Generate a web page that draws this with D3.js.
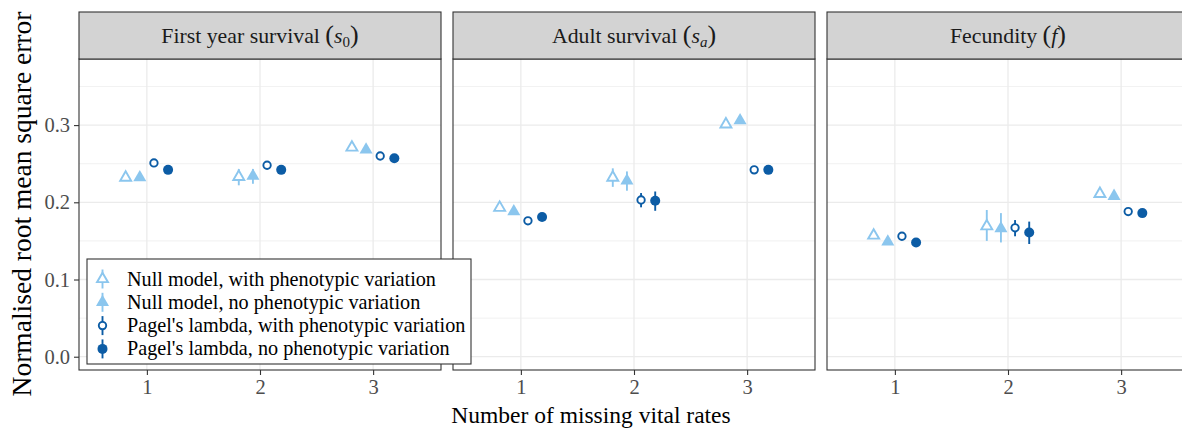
<!DOCTYPE html>
<html>
<head>
<meta charset="utf-8">
<script src="https://cdn.jsdelivr.net/npm/d3@7"></script>
<style>
  body { margin: 0; background: #fff; }
  svg { display: block; }
  text { font-family: "Liberation Serif", "DejaVu Serif", serif; }
</style>
</head>
<body>
<svg id="chart" width="1182" height="430"></svg>
<script>
// Number of missing vital rates (x positions within each facet)
const missingRates = [1, 2, 3];
// Facets: vital rate being imputed
const facetKeys = ["s0", "sa", "f"];
const facetNames = ["First year survival", "Adult survival", "Fecundity"];
const facetSymbols = ["s", "s", "f"];
const facetSubscripts = ["0", "a", ""];
const yTicks = [0, 0.1, 0.2, 0.3];
const yMinor = [0.05, 0.15, 0.25, 0.35];
const yTickLabels = ["0.0", "0.1", "0.2", "0.3"];

const modelNames = [
  "Null model, with phenotypic variation",
  "Null model, no phenotypic variation",
  "Pagel's lambda, with phenotypic variation",
  "Pagel's lambda, no phenotypic variation"
];

// Normalised RMSE, ordered facet by facet (s0: 1,2,3 | sa: 1,2,3 | f: 1,2,3)
const nullWithMean  = [0.232, 0.233, 0.271, 0.193, 0.232, 0.301, 0.157, 0.169, 0.211];
const nullWithLow   = [0.229, 0.222, 0.268, 0.190, 0.220, 0.298, 0.154, 0.150, 0.208];
const nullWithHigh  = [0.235, 0.243, 0.274, 0.196, 0.244, 0.304, 0.160, 0.190, 0.214];

const nullNoMean    = [0.232, 0.234, 0.268, 0.188, 0.228, 0.306, 0.149, 0.166, 0.208];
const nullNoLow     = [0.229, 0.224, 0.265, 0.185, 0.215, 0.303, 0.146, 0.148, 0.205];
const nullNoHigh    = [0.235, 0.243, 0.271, 0.191, 0.240, 0.309, 0.152, 0.186, 0.211];

const pagelWithMean = [0.251, 0.248, 0.260, 0.176, 0.203, 0.242, 0.156, 0.167, 0.188];
const pagelWithLow  = [0.249, 0.245, 0.258, 0.174, 0.1935, 0.240, 0.154, 0.156, 0.186];
const pagelWithHigh = [0.253, 0.251, 0.262, 0.178, 0.212, 0.244, 0.158, 0.177, 0.190];

const pagelNoMean   = [0.242, 0.242, 0.257, 0.181, 0.202, 0.242, 0.148, 0.161, 0.186];
const pagelNoLow    = [0.240, 0.239, 0.255, 0.179, 0.189, 0.240, 0.146, 0.146, 0.184];
const pagelNoHigh   = [0.244, 0.245, 0.259, 0.183, 0.214, 0.244, 0.150, 0.175, 0.188];

const seriesMeans = [nullWithMean, nullNoMean, pagelWithMean, pagelNoMean];
const seriesLows  = [nullWithLow, nullNoLow, pagelWithLow, pagelNoLow];
const seriesHighs = [nullWithHigh, nullNoHigh, pagelWithHigh, pagelNoHigh];

const lightBlue = "#8BC6EE";
const darkBlue = "#0C5CA5";
const modelColors = [lightBlue, lightBlue, darkBlue, darkBlue];
const modelShapes = ["triangle", "triangle", "circle", "circle"];
const modelFilled = [false, true, false, true];

// Build long-format rows
const rows = [];
seriesMeans.forEach((means, m) => {
  facetKeys.forEach((fk, f) => {
    missingRates.forEach((r, j) => {
      const k = f * missingRates.length + j;
      rows.push({ model: m, facet: fk, rate: r, mean: means[k], lo: seriesLows[m][k], hi: seriesHighs[m][k] });
    });
  });
});

const svg = d3.select("#chart");

const stripTop = 12, stripBottom = 59, plotBottom = 370;
const facetBand = d3.scaleBand()
  .domain(facetKeys)
  .range([79, 79 + 3 * 362 + 2 * 12])
  .paddingInner(12 / 374);
const pw = facetBand.bandwidth();
const ph = plotBottom - stripBottom;

const x = d3.scaleLinear().domain([0.4, 3.6]).range([0, pw]);
const y = d3.scaleLinear().domain([-0.0172, 0.3856]).range([ph, 0]);
const dodge = d3.scalePoint().domain(d3.range(4)).range([-0.1875, 0.1875]);

function drawSymbol(g, shape, filled, color, cx, cy) {
  if (shape === "triangle") {
    const size = filled ? 74 : 52;
    g.append("path")
      .attr("d", d3.symbol().type(d3.symbolTriangle).size(size)())
      .attr("transform", `translate(${cx},${cy})`)
      .attr("fill", filled ? color : "#fff")
      .attr("stroke", filled ? "none" : color)
      .attr("stroke-width", filled ? 0 : 1.9)
      .attr("stroke-linejoin", "miter");
  } else {
    g.append("circle")
      .attr("cx", cx).attr("cy", cy)
      .attr("r", filled ? 5 : 3.7)
      .attr("fill", filled ? color : "#fff")
      .attr("stroke", filled ? "none" : color)
      .attr("stroke-width", filled ? 0 : 1.9);
  }
}

facetKeys.forEach((fk, fi) => {
  const g = svg.append("g").attr("transform", `translate(${facetBand(fk)},${stripBottom})`);

  g.append("rect").attr("width", pw).attr("height", ph).attr("fill", "#fff");

  // minor then major gridlines
  g.selectAll(".ymin").data(yMinor).enter().append("line")
    .attr("x1", 0).attr("x2", pw)
    .attr("y1", d => y(d)).attr("y2", d => y(d))
    .attr("stroke", "#EBEBEB").attr("stroke-width", 0.7);
  g.selectAll(".ymaj").data(yTicks).enter().append("line")
    .attr("x1", 0).attr("x2", pw)
    .attr("y1", d => y(d)).attr("y2", d => y(d))
    .attr("stroke", "#EBEBEB").attr("stroke-width", 1.3);
  g.selectAll(".xmaj").data(missingRates).enter().append("line")
    .attr("y1", 0).attr("y2", ph)
    .attr("x1", d => x(d)).attr("x2", d => x(d))
    .attr("stroke", "#EBEBEB").attr("stroke-width", 1.3);

  // point ranges
  rows.filter(r => r.facet === fk).forEach(r => {
    const cx = x(r.rate + dodge(r.model));
    const col = modelColors[r.model];
    g.append("line")
      .attr("x1", cx).attr("x2", cx)
      .attr("y1", y(r.lo)).attr("y2", y(r.hi))
      .attr("stroke", col).attr("stroke-width", 1.9);
    drawSymbol(g, modelShapes[r.model], modelFilled[r.model], col, cx, y(r.mean));
  });

  g.append("rect").attr("width", pw).attr("height", ph)
    .attr("fill", "none").attr("stroke", "#333333").attr("stroke-width", 1.1);

  // x axis
  const xa = g.append("g").attr("transform", `translate(0,${ph})`)
    .call(d3.axisBottom(x).tickValues(missingRates).tickFormat(d3.format("d")).tickSize(5).tickPadding(4));
  xa.select(".domain").remove();
  xa.selectAll("line").attr("stroke", "#333333").attr("stroke-width", 1.1);
  xa.selectAll("text").attr("font-size", 20.5).attr("fill", "#4D4D4D")
    .attr("font-family", "Liberation Serif");

  if (fi === 0) {
    const ya = g.append("g")
      .call(d3.axisLeft(y).tickValues(yTicks).tickFormat((d, i) => yTickLabels[i]).tickSize(5).tickPadding(4));
    ya.select(".domain").remove();
    ya.selectAll("line").attr("stroke", "#333333").attr("stroke-width", 1.1);
    ya.selectAll("text").attr("font-size", 20.5).attr("fill", "#4D4D4D")
      .attr("font-family", "Liberation Serif");
  }

  // strip
  const s = svg.append("g").attr("transform", `translate(${facetBand(fk)},${stripTop})`);
  s.append("rect").attr("width", pw).attr("height", stripBottom - stripTop)
    .attr("fill", "#D3D3D3").attr("stroke", "#333333").attr("stroke-width", 1.1);
  const t = s.append("text").attr("x", pw / 2).attr("y", 31)
    .attr("text-anchor", "middle").attr("font-size", 21.8).attr("fill", "#1A1A1A");
  t.append("tspan").text(facetNames[fi] + " ");
  t.append("tspan").attr("font-size", 26).text("(");
  t.append("tspan").attr("font-style", "italic").text(facetSymbols[fi]);
  if (facetSubscripts[fi]) {
    t.append("tspan").attr("font-size", 15)
      .attr("font-style", facetSubscripts[fi] === "a" ? "italic" : "normal")
      .attr("dy", 4).text(facetSubscripts[fi]);
    t.append("tspan").attr("dy", -4).attr("font-size", 26).text(")");
  } else {
    t.append("tspan").attr("font-size", 26).text(")");
  }
});

// axis titles
svg.append("text").attr("x", 591).attr("y", 423)
  .attr("text-anchor", "middle").attr("font-size", 23.5).attr("fill", "#000")
  .text("Number of missing vital rates");
svg.append("text")
  .attr("transform", "translate(31,204) rotate(-90)")
  .attr("text-anchor", "middle").attr("font-size", 27.5).attr("fill", "#000")
  .text("Normalised root mean square error");

// legend inside the first panel
const lg = svg.append("g").attr("transform", "translate(87,259)");
lg.append("rect").attr("width", 384).attr("height", 105)
  .attr("fill", "#fff").attr("stroke", "#333333").attr("stroke-width", 1.1);
modelNames.forEach((name, i) => {
  const cy = 20 + i * 23.3;
  const col = modelColors[i];
  lg.append("line").attr("x1", 15.5).attr("x2", 15.5)
    .attr("y1", cy - 9.5).attr("y2", cy + 9.5)
    .attr("stroke", col).attr("stroke-width", 1.9);
  drawSymbol(lg, modelShapes[i], modelFilled[i], col, 15.5, cy);
  lg.append("text").attr("x", 40).attr("y", cy + 6.5)
    .attr("font-size", 20.2).attr("fill", "#000").text(name);
});
</script>
</body>
</html>
